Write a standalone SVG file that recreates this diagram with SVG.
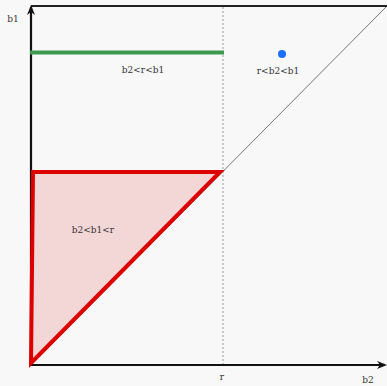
<svg xmlns="http://www.w3.org/2000/svg" width="387" height="386" viewBox="0 0 387 386">
<style>
text{font-family:"DejaVu Serif","Liberation Serif",serif;font-size:9px;fill:#333}
.axis{stroke:#111;stroke-width:2.2;fill:none}
</style>
<defs>
<marker id="ah" markerWidth="10" markerHeight="8" refX="8" refY="4" orient="auto" markerUnits="userSpaceOnUse">
<path d="M0,0 L10,4 L0,8 L3,4 Z" fill="#111"/>
</marker>
</defs>
<rect width="387" height="386" fill="#f8f8f8"/>
<g id="connectors">
<line x1="223" y1="7" x2="223" y2="365" stroke="#999" stroke-width="1" stroke-dasharray="2,2"/>
<line x1="31" y1="365" x2="386" y2="7" stroke="#777" stroke-width="1"/>
<line x1="31" y1="6" x2="387" y2="6" stroke="#222" stroke-width="2.2"/>
<line class="axis" x1="31" y1="366" x2="31" y2="7" marker-end="url(#ah)"/>
<line class="axis" x1="31" y1="365" x2="385" y2="365" marker-end="url(#ah)"/>
</g>
<g id="region-red">
<polygon points="33,172 220,172 31,363" fill="#f3d6d6" stroke="#dd0000" stroke-width="4" stroke-linejoin="miter"/>
</g>
<g id="region-green">
<line x1="30" y1="52.5" x2="224" y2="52.5" stroke="#3c9a50" stroke-width="4"/>
</g>
<g id="point">
<circle cx="282" cy="54" r="4" fill="#1a6fff"/>
</g>
<g id="labels">
<text x="13" y="22" text-anchor="middle">b1</text>
<text x="143" y="73" text-anchor="middle">b2&lt;r&lt;b1</text>
<text x="278" y="74" text-anchor="middle">r&lt;b2&lt;b1</text>
<text x="93" y="233" text-anchor="middle">b2&lt;b1&lt;r</text>
<text x="222" y="380" text-anchor="middle">r</text>
<text x="368" y="383" text-anchor="middle">b2</text>
</g>
</svg>
